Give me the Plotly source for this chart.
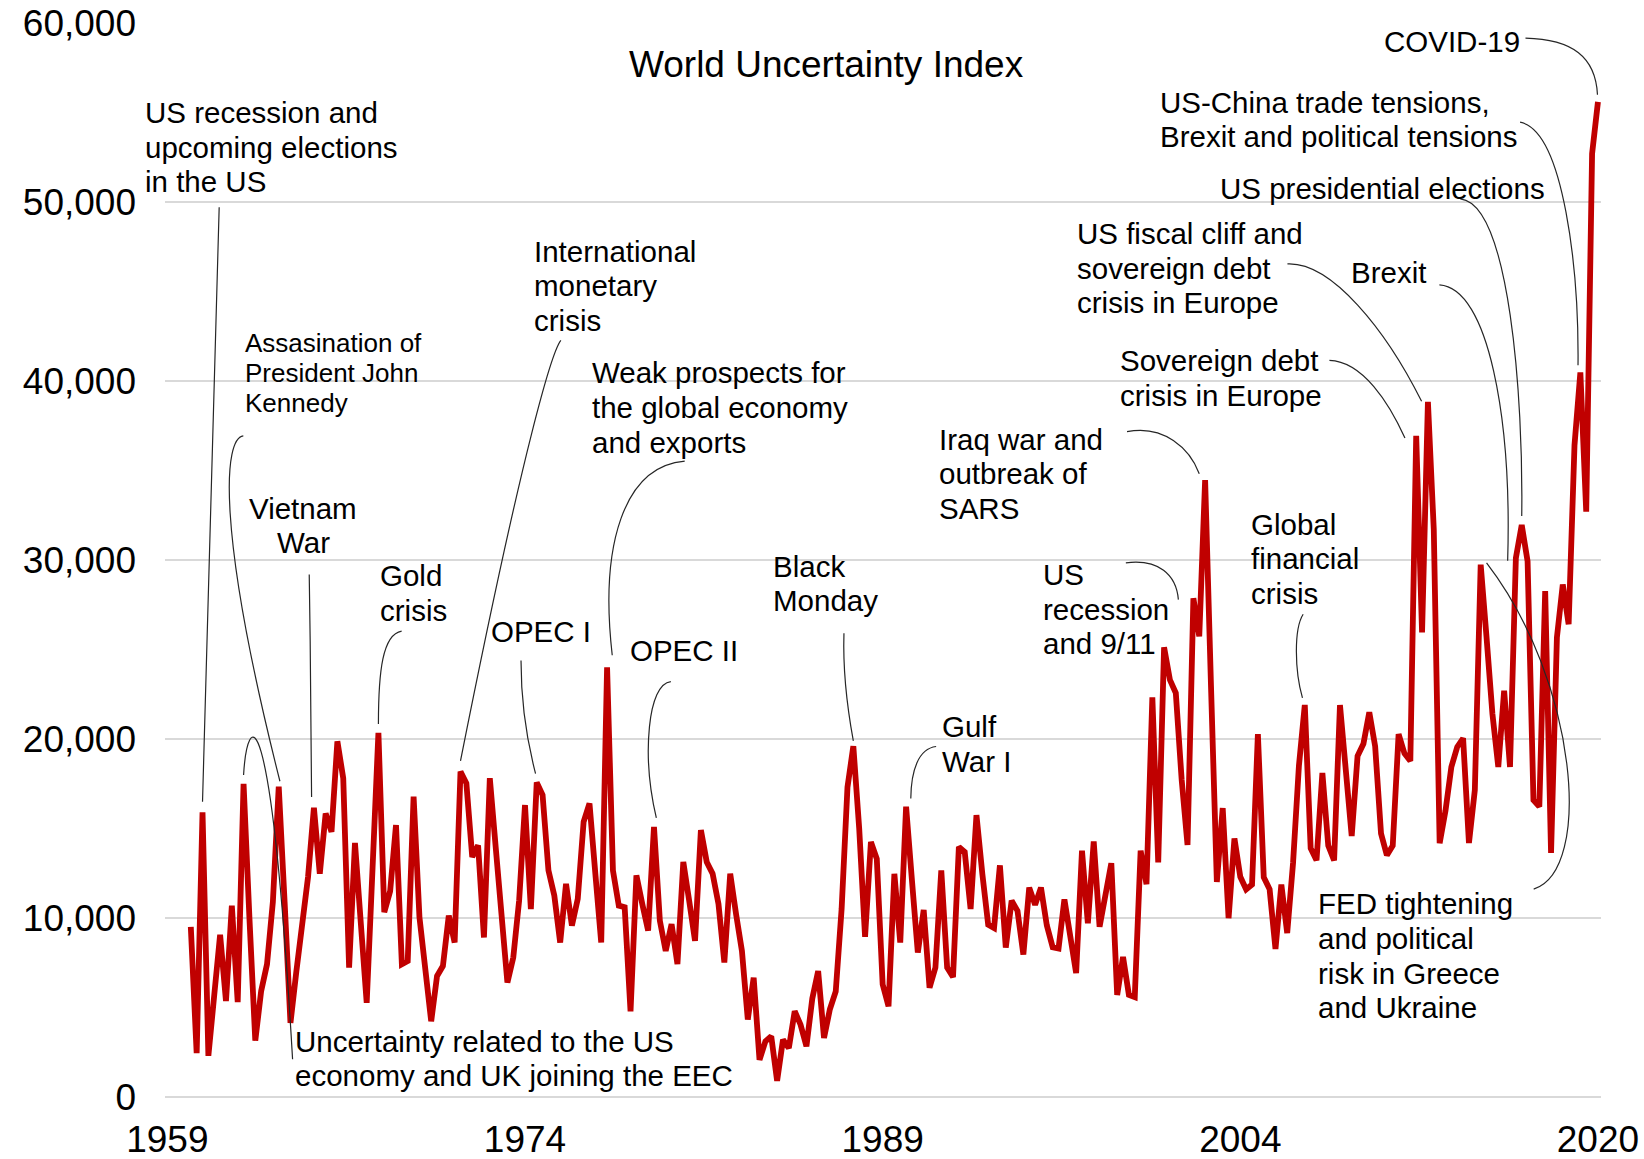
import numpy as np
import plotly.graph_objects as go

# World Uncertainty Index, quarterly observations from 1960Q1 to 2020Q1
START_YEAR = 1960
wui = [
    9500, 2450, 15900, 2300, 5700, 9060, 5360, 10690, 5300, 17490,
    10000, 3150, 5920, 7420, 10900, 17340, 10900, 4140, 7000, 9600,
    12300, 16160, 12470, 15840, 14810, 19870, 17810, 7230, 14190, 9700,
    5260, 12800, 20340, 10320, 11500, 15190, 7420, 7600, 16780, 10040,
    7100, 4230, 6760, 7320, 10130, 8630, 18180, 17530, 13410, 14060,
    8910, 17810, 13970, 10600, 6390, 7790, 10980, 16310, 10500, 17570,
    16870, 12660, 11250, 8630, 11910, 9570, 11070, 15370, 16400, 12470,
    8630, 24000, 12660, 10690, 10600, 4790, 12380, 10790, 9290, 15090,
    9850, 8160, 9660, 7420, 13130, 10970, 8730, 14910, 13130, 12470,
    10790, 7510, 12470, 10220, 8160, 4330, 6670, 2080, 3110, 3390,
    900, 3200, 2730, 4790, 4040, 2830, 5500, 7040, 3300, 4900,
    5900, 10500, 17300, 19600, 15000, 8950, 14250, 13310, 6290, 5070,
    12470, 8630, 16220, 12100, 8070, 10450, 6100, 7230, 12660, 7230,
    6700, 13970, 13690, 10500, 15750, 12470, 9630, 9440, 12940, 8350,
    10970, 10400, 7960, 11700, 10730, 11700, 9590, 8370, 8300, 11040,
    8740, 6920, 13760, 9710, 14270, 9510, 11290, 13060, 5700, 7820,
    5700, 5580, 13760, 11890, 22330, 13110, 25120, 23300, 22570, 17720,
    14080, 27860, 25730, 34470, 23000, 12010, 16140, 9990, 14440, 12300,
    11600, 11870, 20270, 12280, 11600, 8270, 11870, 9160, 13090, 18510,
    21900, 13900, 13220, 18100, 14040, 13220, 21900, 18510, 14580, 19050,
    19730, 21490, 19590, 14720, 13500, 14040, 20270, 19190, 18780, 36940,
    25960, 38830, 31700, 14180, 16000, 18440, 19560, 20040, 14190, 17150,
    29740, 25670, 21410, 18440, 22700, 18440, 30110, 31960, 29930, 16590,
    16220, 28260, 13630, 25670, 28630, 26410, 36410, 40480, 32700, 52700,
    55590,
]
quarters = [START_YEAR + i / 4 for i in range(len(wui))]

y_ticks = [0, 10000, 20000, 30000, 40000, 50000, 60000]
x_tick_labels = ["1959", "1974", "1989", "2004", "2020"]

X_RANGE = (1958.9, 2020.13)
Y_RANGE = (0, 60000)
LINE_RED = "#C00000"
LEADER = "#262626"
FONT = "Liberation Sans, Arial, sans-serif"


def q_index(label):
    """'1988Q2' -> position in the quarterly series."""
    year, q = label.split("Q")
    return (int(year) - START_YEAR) * 4 + int(q) - 1


# Event call-outs: text lines, label anchor (year, value of first line),
# alignment, font size, line pitch (px), leader start + two bezier
# control points, the quarter it points at and a small offset at the tip.
events = [
    (["US recession and", "upcoming elections", "in the US"], 1958.03, 54990, "left", 29.5, 34.6,
     [(1961.21, 49710), (1960.97, 38640), (1960.74, 27570)], "1960Q3", (0.0, 600)),
    (["Assasination of", "President John", "Kennedy"], 1962.32, 42150, "left", 26, 30.4,
     [(1962.24, 36930), (1961.43, 36810), (1961.03, 32000)], "1963Q4", (0.05, 300)),
    (["Vietnam", "War"], 1964.87, 32890, "center", 29.5, 34.6,
     [(1965.05, 29190), (1965.10, 24970), (1965.14, 20280)], "1965Q2", (-0.1, 600)),
    (["Gold", "crisis"], 1968.05, 29130, "left", 29.5, 34.6,
     [(1968.99, 26030), (1968.18, 25850), (1968.0, 23800)], "1968Q1", (0.0, 500)),
    (["Uncertainty related to the US", "economy and UK joining the EEC"], 1964.43, 3110, "left", 29.5, 34.6,
     [(1964.34, 2110), (1963.40, 23210), (1962.41, 21460)], "1962Q2", (0.0, 500)),
    (["International", "monetary", "crisis"], 1974.62, 47250, "left", 29.5, 34.6,
     [(1975.78, 42270), (1975.42, 41680), (1974.22, 36700)], "1971Q3", (0.0, 600)),
    (["OPEC I"], 1972.79, 26030, "left", 29.5, 34.6,
     [(1974.08, 24390), (1974.08, 22630), (1974.26, 20280)], "1974Q4", (-0.05, 500)),
    (["Weak prospects for", "the global economy", "and exports"], 1977.12, 40450, "left", 29.5, 34.6,
     [(1981.06, 35520), (1978.46, 35230), (1977.43, 30830)], "1977Q4", (0.22, 680)),
    (["OPEC II"], 1978.73, 24970, "left", 29.5, 34.6,
     [(1980.47, 23210), (1979.49, 23100), (1979.22, 19110)], "1979Q4", (0.1, 500)),
    (["Black", "Monday"], 1984.81, 29660, "left", 29.5, 34.6,
     [(1987.85, 25910), (1987.80, 23800), (1988.03, 21460)], "1988Q2", (0.0, 300)),
    (["Gulf", "War I"], 1992.05, 20690, "left", 29.5, 34.6,
     [(1991.78, 19580), (1991.02, 19460), (1990.71, 18230)], "1990Q3", (0.2, 450)),
    (["Iraq war and", "outbreak of", "SARS"], 1991.92, 36760, "left", 29.5, 34.6,
     [(1999.92, 37170), (2001.48, 37580), (2002.60, 36230)], "2003Q2", (-0.25, 350)),
    (["US", "recession", "and 9/11"], 1996.34, 29190, "left", 29.5, 34.6,
     [(1999.87, 29840), (2001.26, 30070), (2002.02, 29190)], "2002Q4", (-0.64, -75)),
    (["Global", "financial", "crisis"], 2005.19, 32010, "left", 29.5, 34.6,
     [(2007.43, 26970), (2007.03, 26150), (2007.07, 23800)], "2007Q3", (-0.1, 400)),
    (["Sovereign debt", "crisis in Europe"], 1999.61, 41150, "left", 29.5, 34.6,
     [(2008.55, 41150), (2009.98, 41090), (2011.10, 38750)], "2012Q2", (-0.48, -130)),
    (["US fiscal cliff and", "sovereign debt", "crisis in Europe"], 1997.77, 48240, "left", 29.5, 34.6,
     [(2006.76, 46540), (2008.64, 46660), (2010.96, 42850)], "2012Q4", (-0.27, 35)),
    (["Brexit"], 2009.49, 46080, "left", 29.5, 34.6,
     [(2013.24, 45370), (2015.34, 45200), (2016.33, 37870)], "2016Q3", (-0.35, -150)),
    (["US presidential elections"], 2003.90, 50770, "left", 29.5, 34.6,
     [(2014.13, 50180), (2016.24, 49890), (2016.82, 39040)], "2016Q4", (0.0, 500)),
    (["US-China trade tensions,", "Brexit and political tensions"], 2001.31, 55570, "left", 29.5, 34.6,
     [(2016.68, 54460), (2018.56, 53990), (2019.19, 46080)], "2019Q2", (-0.1, 400)),
    (["COVID-19"], 2010.87, 58970, "left", 29.5, 34.6,
     [(2016.91, 59150), (2018.92, 59090), (2019.90, 58090)], "2020Q1", (-0.02, 400)),
    (["FED tightening", "and political", "risk in Greece", "and Ukraine"], 2008.06, 10790, "left", 29.5, 34.6,
     [(2017.26, 11610), (2019.81, 12660), (2019.14, 23210)], "2015Q1", (0.25, 100)),
]


def to_paper(year):
    return (year - X_RANGE[0]) / (X_RANGE[1] - X_RANGE[0])


fig = go.Figure()
fig.add_trace(go.Scatter(
    x=quarters, y=wui, mode="lines",
    line=dict(color=LINE_RED, width=5.8),
    hoverinfo="skip", showlegend=False,
))

annotations = []
shapes = []
for lines, lx, ly, align, size, pitch, pts, quarter, (dx, dy) in events:
    for i, text in enumerate(lines):
        annotations.append(dict(
            text=text, x=to_paper(lx), xref="paper", y=ly, yref="y",
            xanchor=align, yanchor="middle", yshift=-i * pitch, xshift=-2,
            showarrow=False, font=dict(family=FONT, size=size, color="#000000"),
        ))
    k = q_index(quarter)
    tip = (quarters[k] + dx, wui[k] + dy)
    (x0, y0), (x1, y1), (x2, y2) = pts
    shapes.append(dict(
        type="path", xref="x", yref="y", layer="above",
        path=f"M {x0},{y0} C {x1},{y1} {x2},{y2} {tip[0]},{tip[1]}",
        line=dict(color=LEADER, width=1.2),
    ))

# Chart title
annotations.append(dict(
    text="World Uncertainty Index", x=to_paper(1987.09), xref="paper", y=57680, yref="y",
    xanchor="center", yanchor="middle", showarrow=False,
    font=dict(family=FONT, size=37, color="#000000"),
))

fig.update_layout(
    width=1644, height=1159,
    margin=dict(l=165, r=43, t=23, b=62),
    paper_bgcolor="white", plot_bgcolor="white",
    font=dict(family=FONT, color="#000000"),
    annotations=annotations, shapes=shapes,
    showlegend=False,
    xaxis=dict(
        range=list(X_RANGE), automargin=False,
        tickmode="array",
        tickvals=list(np.linspace(int(x_tick_labels[0]), int(x_tick_labels[-1]), len(x_tick_labels))),
        ticktext=x_tick_labels,
        showgrid=False, zeroline=False, showline=False, ticks="",
        tickfont=dict(family=FONT, size=37, color="#000000"),
        ticklabelstandoff=17,
    ),
    yaxis=dict(
        range=list(Y_RANGE), automargin=False,
        tickmode="array", tickvals=y_ticks, tickformat=",",
        showgrid=True, gridcolor="#d9d9d9", gridwidth=1.5,
        zeroline=True, zerolinecolor="#d9d9d9", zerolinewidth=1.5,
        showline=False, ticks="",
        tickfont=dict(family=FONT, size=37, color="#000000"),
        ticklabelstandoff=28,
    ),
)

fig.write_html("out.html")
